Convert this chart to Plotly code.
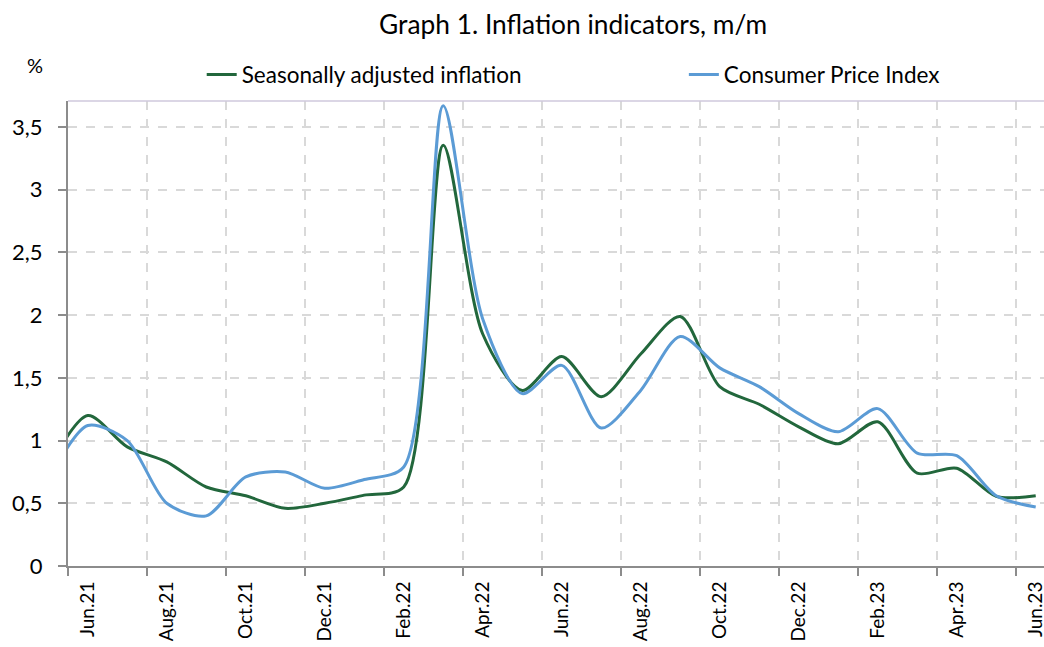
import plotly.graph_objects as go

months = ["May.21", "Jun.21", "Jul.21", "Aug.21", "Sep.21", "Oct.21", "Nov.21", "Dec.21",
          "Jan.22", "Feb.22", "Mar.22", "Apr.22", "May.22", "Jun.22", "Jul.22", "Aug.22",
          "Sep.22", "Oct.22", "Nov.22", "Dec.22", "Jan.23", "Feb.23", "Mar.23", "Apr.23",
          "May.23", "Jun.23"]
seasonally_adjusted = [0.78, 1.20, 0.95, 0.83, 0.63, 0.56, 0.46, 0.50, 0.565, 0.63, 3.355, 1.85,
                       1.40, 1.67, 1.35, 1.69, 1.99, 1.43, 1.29, 1.11, 0.975, 1.15, 0.74, 0.78,
                       0.555, 0.56]
cpi = [0.68, 1.12, 1.00, 0.50, 0.40, 0.71, 0.75, 0.62, 0.69, 0.79, 3.67, 1.97,
       1.375, 1.60, 1.10, 1.40, 1.83, 1.58, 1.43, 1.215, 1.07, 1.255, 0.90, 0.88,
       0.56, 0.47]
tick_labels = ["Jun.21", "Aug.21", "Oct.21", "Dec.21", "Feb.22", "Apr.22", "Jun.22",
               "Aug.22", "Oct.22", "Dec.22", "Feb.23", "Apr.23", "Jun.23"]

x = list(range(-1, len(months) - 1))  # Jun.21 -> 0

fig = go.Figure()
fig.add_trace(go.Scatter(x=x, y=seasonally_adjusted, mode="lines", name="Seasonally adjusted inflation",
                         line=dict(color="#22673c", width=3, shape="spline", smoothing=0.8),
                         legend="legend"))
fig.add_trace(go.Scatter(x=x, y=cpi, mode="lines", name="Consumer Price Index",
                         line=dict(color="#5b9bd5", width=3, shape="spline", smoothing=0.8),
                         legend="legend2"))

label_pos = [months.index(t) - 1 for t in tick_labels]
bounds = [p - 0.5 for p in label_pos]

legend_common = dict(orientation="h", yanchor="middle", y=1.056,
                     font=dict(family="Lato", size=22.5, color="black"),
                     bgcolor="rgba(0,0,0,0)")

fig.update_layout(
    width=1044, height=647,
    margin=dict(l=68, r=0, t=101, b=81),
    paper_bgcolor="white", plot_bgcolor="white",
    separators=", ",
    title=dict(text="Graph 1. Inflation indicators, m/m", x=0.549, xanchor="center",
               xref="container", y=0.961, yanchor="middle",
               font=dict(family="Lato", size=26.3, color="black")),
    showlegend=True,
    legend=dict(x=0.137, xanchor="left", **legend_common),
    legend2=dict(x=0.631, xanchor="left", **legend_common),
    xaxis=dict(range=[-0.5, 24.21], tickvals=label_pos, ticktext=tick_labels,
               tickangle=-90, ticks="", showgrid=False, zeroline=False, automargin=False,
               ticklabeloverflow="allow", ticklabelstandoff=6,
               showline=True, linecolor="#8c8c8c", linewidth=2,
               tickfont=dict(family="Lato", size=19, color="black"),
               minor=dict(tickvals=bounds, ticks="outside", ticklen=8, tickcolor="#8c8c8c",
                          tickwidth=2, showgrid=True, gridcolor="#d9d9d9", griddash="dash",
                          gridwidth=1.5)),
    yaxis=dict(range=[0, 3.708], dtick=0.5, tick0=0, ticks="outside", ticklen=8,
               tickcolor="#8c8c8c", tickwidth=1.5, showline=True, linecolor="#8c8c8c",
               linewidth=2, showgrid=True, gridcolor="#d9d9d9", griddash="dash", gridwidth=1.5,
               zeroline=False, automargin=False, ticklabelstandoff=11,
               tickfont=dict(family="Lato", size=22, color="black")),
)
fig.add_shape(type="line", xref="paper", yref="paper", x0=0, x1=1, y0=1, y1=1,
              line=dict(color="#cfc8dc", width=1.5))
fig.add_annotation(text="%", xref="paper", yref="paper", x=-0.034, y=1.078,
                   xanchor="center", yanchor="middle", showarrow=False,
                   font=dict(family="Lato", size=20, color="black"))

fig.write_html("out.html", config={"displayModeBar": False},
               post_script="document.body.style.margin='0';")
